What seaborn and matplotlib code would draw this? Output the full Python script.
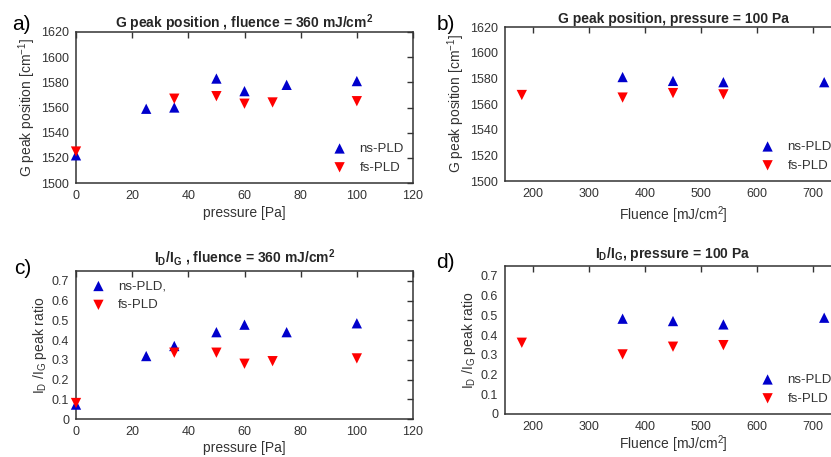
import matplotlib
matplotlib.use("Agg")
import matplotlib.pyplot as plt
import seaborn as sns
import pandas as pd
import numpy as np

# a) G peak position vs pressure, fluence = 360 mJ/cm2
pressure_ns = [0, 25, 35, 50, 60, 75, 100]
gpos_p_ns = [1522, 1559, 1560, 1583, 1573, 1578, 1581]
pressure_fs = [0, 35, 50, 60, 70, 100]
gpos_p_fs = [1525, 1567, 1569, 1563, 1564, 1565]

# b) G peak position vs fluence, pressure = 100 Pa
fluence_ns = [360, 450, 540, 720]
gpos_f_ns = [1581, 1578, 1577, 1577]
fluence_fs = [180, 360, 450, 540]
gpos_f_fs = [1567, 1565, 1568.5, 1567.5]

# c) ID/IG vs pressure
ratio_p_ns = [0.073, 0.319, 0.37, 0.44, 0.478, 0.44, 0.485]
ratio_p_fs = [0.081, 0.336, 0.336, 0.28, 0.293, 0.307]

# d) ID/IG vs fluence
ratio_f_ns = [0.483, 0.471, 0.454, 0.488]
ratio_f_fs = [0.361, 0.302, 0.341, 0.349]

sns.set_theme(style="white")
plt.rcParams['font.family'] = ['Liberation Sans', 'DejaVu Sans']
plt.rcParams['mathtext.fontset'] = 'custom'
plt.rcParams['mathtext.rm'] = 'Liberation Sans'
plt.rcParams['mathtext.it'] = 'Liberation Sans'
plt.rcParams['mathtext.bf'] = 'Liberation Sans:bold'

BLUE = "#0000cc"
RED = "#ff0000"
GREY = "#333333"

W, H = 831, 457
fig = plt.figure(figsize=(W / 100, H / 100), dpi=100)


def make_ax(left, right, top, bottom):
    return fig.add_axes([left / W, 1 - bottom / H, (right - left) / W, (bottom - top) / H])


def draw(ax, x_ns, y_ns, x_fs, y_fs, lab_ns="ns-PLD", lab_fs="fs-PLD"):
    d_ns = pd.DataFrame({"x": x_ns, "y": y_ns})
    d_fs = pd.DataFrame({"x": x_fs, "y": y_fs})
    sns.scatterplot(data=d_ns, x="x", y="y", ax=ax, marker="^", color=BLUE,
                    s=55, edgecolor="none", label=lab_ns, clip_on=False, zorder=3)
    sns.scatterplot(data=d_fs, x="x", y="y", ax=ax, marker="v", color=RED,
                    s=55, edgecolor="none", label=lab_fs, clip_on=False, zorder=3)
    for sp in ax.spines.values():
        sp.set_color(GREY)
        sp.set_linewidth(1.1)
        sp.set_visible(True)
    ax.tick_params(direction="in", top=True, right=True, length=4, width=1,
                   color=GREY, labelcolor=GREY, labelsize=9, pad=5)
    ax.xaxis.label.set_color(GREY)
    ax.yaxis.label.set_color(GREY)


def legend(ax, loc):
    ax.legend(loc=loc, frameon=False, fontsize=9.5, handletextpad=0.5,
              borderaxespad=0.3, labelcolor=GREY)


# a)
ax_a = make_ax(76, 413, 32, 183)
draw(ax_a, pressure_ns, gpos_p_ns, pressure_fs, gpos_p_fs)
ax_a.set_xlim(0, 120)
ax_a.set_ylim(1500, 1620)
ax_a.set_xticks(np.arange(0, 121, 20))
ax_a.set_yticks(np.arange(1500, 1621, 20))
ax_a.set_xlabel("pressure [Pa]", fontsize=10, labelpad=3)
ax_a.set_ylabel("G peak position [cm$^{-1}$]", fontsize=10, labelpad=2)
ax_a.set_title("G peak position , fluence = 360 mJ/cm$^\\mathbf{2}$", fontsize=10,
               fontweight="bold", pad=3)
legend(ax_a, "lower right")

# b)
ax_b = make_ax(505, 841, 27, 181)
draw(ax_b, fluence_ns, gpos_f_ns, fluence_fs, gpos_f_fs)
ax_b.set_xlim(150, 750)
ax_b.set_ylim(1500, 1620)
ax_b.set_xticks(np.arange(200, 701, 100))
ax_b.set_yticks(np.arange(1500, 1621, 20))
ax_b.set_xlabel("Fluence [mJ/cm$^2$]", fontsize=10, labelpad=3)
ax_b.set_ylabel("G peak position [cm$^{-1}$]", fontsize=10, labelpad=2)
ax_b.set_title("G peak position, pressure = 100 Pa", fontsize=10,
               fontweight="bold", pad=3)
legend(ax_b, "lower right")

# c)
ax_c = make_ax(76, 413, 271, 419)
draw(ax_c, pressure_ns, ratio_p_ns, pressure_fs, ratio_p_fs, lab_ns="ns-PLD,")
ax_c.set_xlim(0, 120)
ax_c.set_ylim(0, 0.75)
ax_c.set_xticks(np.arange(0, 121, 20))
ax_c.set_yticks(np.arange(0, 0.71, 0.1))
ax_c.set_yticklabels(["0", "0.1", "0.2", "0.3", "0.4", "0.5", "0.6", "0.7"])
ax_c.set_xlabel("pressure [Pa]", fontsize=10, labelpad=2)
ax_c.set_ylabel("I$_D$ /I$_G$ peak ratio", fontsize=10, labelpad=2)
ax_c.set_title("I$_\\mathbf{D}$/I$_\\mathbf{G}$ , fluence = 360 mJ/cm$^\\mathbf{2}$",
               fontsize=10, fontweight="bold", pad=6)
legend(ax_c, "upper left")

# d)
ax_d = make_ax(505, 841, 266, 414)
draw(ax_d, fluence_ns, ratio_f_ns, fluence_fs, ratio_f_fs)
ax_d.set_xlim(150, 750)
ax_d.set_ylim(0, 0.75)
ax_d.set_xticks(np.arange(200, 701, 100))
ax_d.set_yticks(np.arange(0, 0.71, 0.1))
ax_d.set_yticklabels(["0", "0.1", "0.2", "0.3", "0.4", "0.5", "0.6", "0.7"])
ax_d.set_xlabel("Fluence [mJ/cm$^2$]", fontsize=10, labelpad=0)
ax_d.set_ylabel("I$_D$ /I$_G$ peak ratio", fontsize=10, labelpad=2)
ax_d.set_title("I$_\\mathbf{D}$/I$_\\mathbf{G}$, pressure = 100 Pa", fontsize=10,
               fontweight="bold", pad=6)
legend(ax_d, "lower right")

# panel letters
for txt, x, y in [("a)", 12, 24), ("b)", 437, 24), ("c)", 14, 269), ("d)", 436, 263)]:
    fig.text(x / W, 1 - y / H, txt, fontsize=15, color="black", va="center", ha="left")

fig.savefig("out.png", dpi=100)
